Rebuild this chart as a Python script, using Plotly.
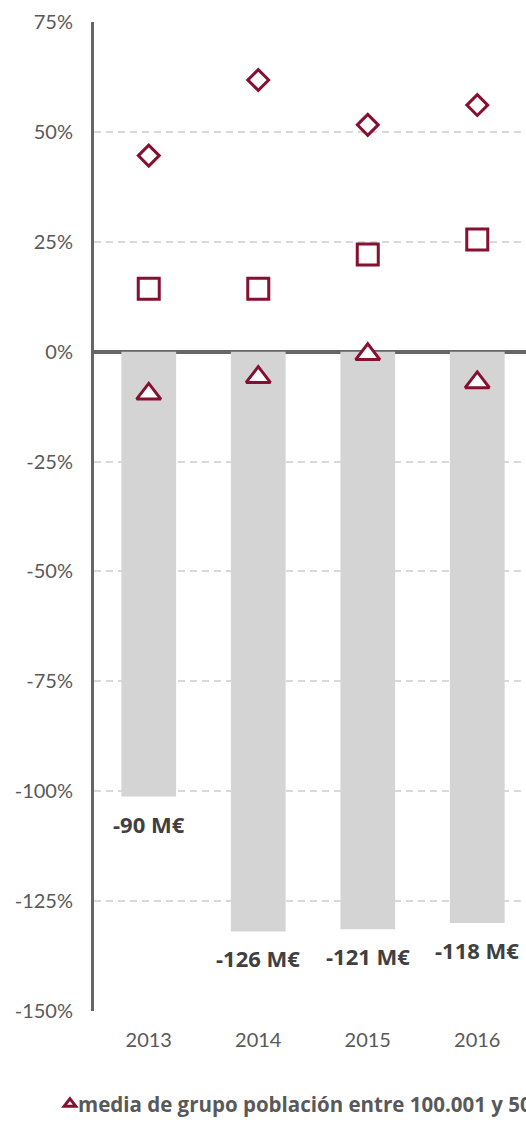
import plotly.graph_objects as go

# Categories and values (percent)
years = ["2013", "2014", "2015", "2016"]
bar_pct = [-101.2, -131.9, -131.4, -130.0]
bar_labels = ["-90 M€", "-126 M€", "-121 M€", "-118 M€"]
diamond_pct = [44.6, 61.8, 51.6, 56.1]
square_pct = [14.3, 14.3, 22.1, 25.5]
triangle_pct = [-9.6, -5.8, -0.6, -7.0]

y_tickvals = [75, 50, 25, 0, -25, -50, -75, -100, -125, -150]
y_ticktext = ["75%", "50%", "25%", "0%", "-25%", "-50%", "-75%", "-100%", "-125%", "-150%"]

legend_text = "media de grupo población entre 100.001 y 500.000 habitantes"

RED = "#85102f"
GREY_TXT = "#595959"
FONT = "Lato, 'Open Sans', sans-serif"
BOLD_FONT = "'Open Sans', sans-serif"

fig = go.Figure()

fig.add_trace(go.Bar(
    x=years, y=bar_pct, width=0.5,
    marker=dict(color="#d4d4d4", line=dict(width=0)),
    showlegend=False, hoverinfo="skip",
))

fig.add_trace(go.Scatter(
    x=years, y=diamond_pct, mode="markers", name="rombo",
    marker=dict(symbol="diamond", size=16, color="white",
                line=dict(color=RED, width=3)),
    showlegend=False,
))

fig.add_trace(go.Scatter(
    x=years, y=square_pct, mode="markers", name="cuadrado",
    marker=dict(symbol="square", size=21, color="white",
                line=dict(color=RED, width=3)),
    showlegend=False,
))

fig.add_trace(go.Scatter(
    x=years, y=triangle_pct, mode="markers", name=legend_text,
    marker=dict(symbol="triangle-up", size=21, color="white",
                line=dict(color=RED, width=3)),
    showlegend=False,
))

# Legend key: a small triangle symbol only (its caption is an annotation
# so it can run past the right edge)
fig.add_trace(go.Scatter(
    x=[None], y=[None], mode="markers", name=" ",
    marker=dict(symbol="triangle-up", size=10, color="white",
                line=dict(color=RED, width=3)),
    showlegend=True, hoverinfo="skip",
))

# Amount labels under each bar end
for i, (v, txt) in enumerate(zip(bar_pct, bar_labels)):
    fig.add_annotation(
        x=i, xref="x", y=v, yref="y", text="<b>" + txt + "</b>", showarrow=False,
        yanchor="middle", yshift=-27,
        font=dict(family=BOLD_FONT, size=22, color="#404040"),
    )

# Legend caption
fig.add_annotation(
    xref="paper", x=-0.042, xanchor="left",
    yref="paper", y=-0.094, yanchor="middle",
    text="<b>" + legend_text + "</b>", showarrow=False,
    font=dict(family=BOLD_FONT, size=20.5, color=GREY_TXT),
)

fig.update_layout(
    width=526, height=1124,
    margin=dict(l=94, r=0, t=22, b=113),
    plot_bgcolor="white", paper_bgcolor="white",
    font=dict(family=FONT, color=GREY_TXT),
    legend=dict(
        orientation="h", x=-0.102, xanchor="left", y=-0.094, yanchor="middle",
        font=dict(family=FONT, size=18, color=GREY_TXT),
        itemwidth=30, bgcolor="rgba(0,0,0,0)",
    ),
)

fig.update_xaxes(
    type="category", range=[-0.5, 3.445],
    showgrid=False, showline=False, zeroline=False, ticks="",
    tickfont=dict(family=FONT, size=20, color=GREY_TXT),
    ticklabelstandoff=15,
)

fig.update_yaxes(
    range=[-150, 75], tickvals=y_tickvals, ticktext=y_ticktext,
    showgrid=True, gridcolor="#d9d9d9", gridwidth=2, griddash="7px,5px",
    zeroline=True, zerolinecolor="#666666", zerolinewidth=3.5,
    showline=True, linecolor="#666666", linewidth=3,
    ticks="", ticklabelstandoff=14,
    tickfont=dict(family=FONT, size=20, color=GREY_TXT),
)

fig.write_html("out.html")
